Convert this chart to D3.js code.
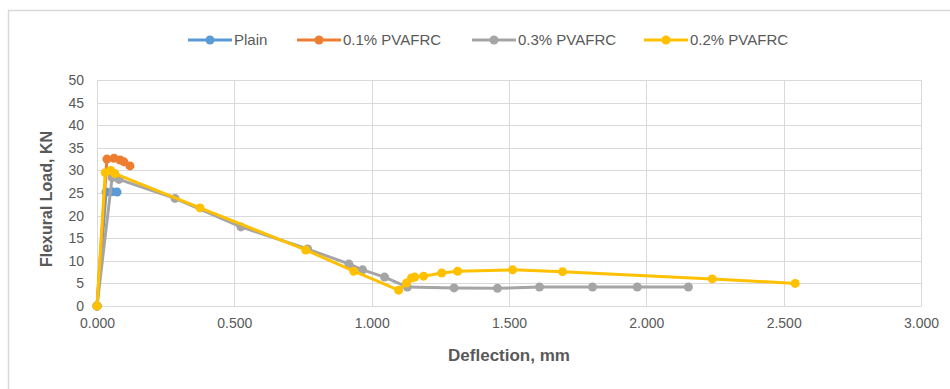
<!DOCTYPE html>
<html>
<head>
<meta charset="utf-8">
<script src="https://cdn.jsdelivr.net/npm/d3@7"></script>
<style>
  html, body { margin: 0; padding: 0; background: #fff; }
  svg { display: block; }
  text { font-family: "Liberation Sans", Arial, sans-serif; fill: #595959; }
</style>
</head>
<body>
<svg id="chart" width="950" height="389"></svg>
<script>
// Load–deflection readings for each mix (deflection in mm, load in kN)
const seriesNames = ["Plain", "0.1% PVAFRC", "0.3% PVAFRC", "0.2% PVAFRC"];
const seriesColors = ["#5B9BD5", "#ED7D31", "#A5A5A5", "#FFC000"];

const plainDeflection = [0, 0.033, 0.055, 0.073];
const plainLoad       = [0, 25.2, 25.3, 25.2];

const pva01Deflection = [0, 0.036, 0.062, 0.084, 0.098, 0.12];
const pva01Load       = [0, 32.5, 32.7, 32.3, 31.9, 31.0];

const pva03Deflection = [0, 0.055, 0.08, 0.284, 0.524, 0.767, 0.917, 0.967, 1.047, 1.13, 1.30, 1.458, 1.611, 1.804, 1.967, 2.153];
const pva03Load       = [0, 28.4, 28.0, 23.8, 17.5, 12.6, 9.3, 8.0, 6.4, 4.2, 4.0, 3.9, 4.2, 4.2, 4.2, 4.2];

const pva02Deflection = [0, 0.03, 0.05, 0.065, 0.375, 0.76, 0.935, 1.098, 1.127, 1.145, 1.157, 1.189, 1.255, 1.313, 1.513, 1.695, 2.24, 2.542];
const pva02Load       = [0, 29.5, 30.0, 29.3, 21.7, 12.4, 7.7, 3.5, 5.1, 6.2, 6.4, 6.6, 7.3, 7.7, 8.0, 7.6, 6.0, 5.0];

const xTicks = [0, 0.5, 1.0, 1.5, 2.0, 2.5, 3.0];
const yTicks = [0, 5, 10, 15, 20, 25, 30, 35, 40, 45, 50];

const series = [
  [plainDeflection, plainLoad],
  [pva01Deflection, pva01Load],
  [pva03Deflection, pva03Load],
  [pva02Deflection, pva02Load]
].map(([xs, ys], i) => ({
  name: seriesNames[i],
  color: seriesColors[i],
  points: xs.map((d, j) => ({ x: d, y: ys[j] }))
}));

const svg = d3.select("#chart");

// outer chart frame (left and top edges)
svg.append("path")
  .attr("d", "M8.5,389 V10.5 H950")
  .attr("fill", "none")
  .attr("stroke", "#D9D9D9")
  .attr("stroke-width", 1.5);

const plot = { left: 97, right: 921, top: 80, bottom: 306 };

const x = d3.scaleLinear().domain([0, 3]).range([plot.left, plot.right]);
const y = d3.scaleLinear().domain([0, 50]).range([plot.bottom, plot.top]);

// gridlines
const grid = svg.append("g");
grid.selectAll("line.h").data(yTicks).join("line")
  .attr("x1", plot.left).attr("x2", plot.right)
  .attr("y1", d => Math.round(y(d)) + 0.5).attr("y2", d => Math.round(y(d)) + 0.5)
  .attr("stroke", "#D9D9D9").attr("stroke-width", 1);
grid.selectAll("line.v").data(xTicks).join("line")
  .attr("y1", plot.top).attr("y2", plot.bottom)
  .attr("x1", d => Math.round(x(d)) + 0.5).attr("x2", d => Math.round(x(d)) + 0.5)
  .attr("stroke", "#D9D9D9").attr("stroke-width", 1);

// axes
const xAxis = svg.append("g")
  .attr("transform", `translate(0,${plot.bottom})`)
  .call(d3.axisBottom(x).tickValues(xTicks).tickFormat(d3.format(".3f")).tickSize(0).tickPadding(12));
xAxis.select(".domain").attr("stroke", "#D9D9D9");
xAxis.selectAll("text").style("font-size", "14px").attr("fill", "#595959");

const yAxis = svg.append("g")
  .attr("transform", `translate(${plot.left},0)`)
  .call(d3.axisLeft(y).tickValues(yTicks).tickSize(0).tickPadding(13));
yAxis.select(".domain").remove();
yAxis.selectAll("text").style("font-size", "14px").attr("fill", "#595959");

// axis titles
svg.append("text")
  .attr("x", (plot.left + plot.right) / 2)
  .attr("y", 361)
  .attr("text-anchor", "middle")
  .style("font-size", "17px").style("font-weight", "bold")
  .text("Deflection, mm");

svg.append("text")
  .attr("transform", `translate(52,${(plot.top + plot.bottom) / 2 + 6}) rotate(-90)`)
  .attr("text-anchor", "middle")
  .style("font-size", "16px").style("font-weight", "bold")
  .text("Flexural Load, KN");

// series lines and markers
const line = d3.line().x(d => x(d.x)).y(d => y(d.y));
const layers = svg.append("g").selectAll("g").data(series).join("g");
layers.append("path")
  .attr("d", d => line(d.points))
  .attr("fill", "none")
  .attr("stroke", d => d.color)
  .attr("stroke-width", 3)
  .attr("stroke-linejoin", "round");
layers.selectAll("circle").data(d => d.points.map(p => ({ ...p, color: d.color }))).join("circle")
  .attr("cx", d => x(d.x)).attr("cy", d => y(d.y))
  .attr("r", 4.5)
  .attr("fill", d => d.color);

// legend
const legendX = [188, 297, 472, 644];
const legend = svg.append("g").selectAll("g").data(series).join("g")
  .attr("transform", (d, i) => `translate(${legendX[i]},40)`);
legend.append("line")
  .attr("x1", 0).attr("x2", 44).attr("y1", 0).attr("y2", 0)
  .attr("stroke", d => d.color).attr("stroke-width", 3);
legend.append("circle")
  .attr("cx", 22).attr("cy", 0).attr("r", 4.5)
  .attr("fill", d => d.color);
legend.append("text")
  .attr("x", 46).attr("y", 5)
  .style("font-size", "15px")
  .text(d => d.name);
</script>
</body>
</html>
